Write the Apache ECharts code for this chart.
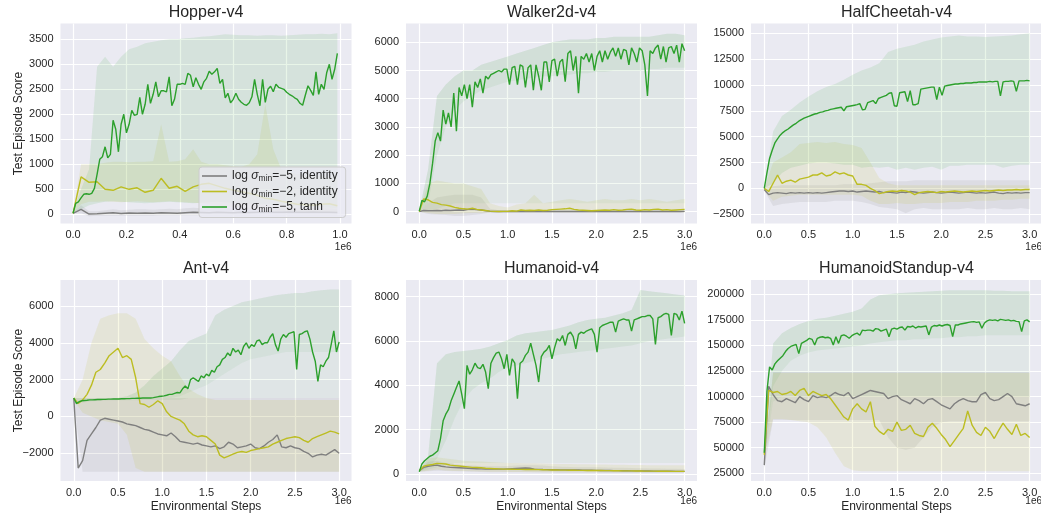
<!DOCTYPE html>
<html>
<head>
<meta charset="utf-8">
<script src="https://cdn.jsdelivr.net/npm/echarts@6/dist/echarts.min.js"></script>
<style>
  html, body { margin: 0; padding: 0; background: #fff; }
  #chart { width: 1041px; height: 514px; }
</style>
</head>
<body>
<div id="chart"></div>
<script>
// x values are environment steps in units of 1e6 (evaluation grid)
function steps(n, dx) {
  const a = []
  for (let i = 0; i < n; i++) a.push(+(i * dx).toFixed(4))
  return a
}
const xHopLine = steps(100, 0.01)
const xHopAux = steps(34, 0.03)
const xLine = steps(101, 0.03)
const xAux = steps(61, 0.05)
const xBand = steps(31, 0.1)

const xTicksHop = [0, 0.2, 0.4, 0.6, 0.8, 1.0]
const xTicks3M = [0, 0.5, 1, 1.5, 2, 2.5, 3]

// ---------------- Hopper ----------------
const hopperYTicks = [0, 500, 1000, 1500, 2000, 2500, 3000, 3500]
const hopperTanh = [
  20, 220, 250, 330, 400, 410, 400, 420, 520, 800,
  1100, 1150, 1350, 1130, 1200, 1880, 1700, 1250, 1800, 2000,
  1630, 1800, 2080, 1980, 2000, 2340, 2000, 2200, 2600, 2220,
  2400, 2650, 2350, 2470, 2470, 2450, 2750, 2170, 2300, 2600,
  2600, 2620, 2600, 2820, 2780, 2550, 2730, 2600, 2500, 2650,
  2720, 2860, 2800, 2850, 2920, 2620, 2700, 2330, 2420, 2230,
  2300, 2420, 2300, 2240, 2200, 2180, 2230, 2350, 2700, 2400,
  2170, 2700, 2240, 2500, 2560, 2450, 2600, 2540, 2520, 2500,
  2440, 2400, 2370, 2330, 2300, 2220, 2180, 2380, 2570, 2480,
  2380, 2850, 2400, 2600, 2500, 2830, 3000, 2700, 2900, 3220]
const hopperId2 = [
  20, 750, 640, 650, 500, 480, 550, 500, 530, 440,
  480, 720, 520, 560, 460, 550, 600, 620, 570, 520,
  480, 450, 420, 380, 320, 300, 260, 230, 200, 190,
  180, 200, 210, 170]
const hopperId5 = [
  20, 100, 5, 10, 20, 30, 15, 25, 20, 25,
  20, 30, 25, 20, 30, 40, 35, 30, 40, 35,
  30, 40, 35, 40, 45, 40, 40, 45, 40, 40,
  45, 40, 40, 35]
const hopperTanhHi = [
  40, 500, 900, 2950, 3150, 2950, 3150, 3300, 3350, 3420,
  3450, 3480, 3500, 3500, 3520, 3530, 3550, 3560, 3580, 3600,
  3590, 3580, 3580, 3570, 3580, 3580, 3570, 3580, 3590, 3600,
  3600, 3610, 3600, 3620]
const hopperTanhLo = [
  0, 100, 180, 220, 250, 260, 250, 240, 230, 220,
  230, 240, 250, 240, 230, 220, 230, 240, 250, 240,
  230, 220, 210, 200, 200, 190, 180, 170, 160, 150,
  150, 140, 130, 120]
const hopperId2Hi = [
  30, 1000, 1000, 1000, 1030, 1050, 1050, 1040, 1050, 1050,
  1060, 1800, 1050, 1060, 1100, 1300, 1050, 1000, 1000, 980,
  960, 950, 1000, 1200, 2200, 1300, 900, 850, 800, 800,
  780, 760, 740, 720]
const hopperId2Lo = [
  10, 200, 250, 250, 260, 250, 240, 250, 260, 250,
  240, 250, 260, 250, 240, 230, 220, 200, 180, 160,
  140, 120, 100, 90, 80, 70, 60, 50, 50, 40,
  40, 40, 30, 30]
const hopperId5Hi = [
  30, 180, 60, 60, 80, 100, 80, 90, 100, 100,
  90, 100, 110, 100, 120, 130, 120, 110, 130, 120,
  110, 130, 120, 130, 140, 130, 120, 130, 140, 130,
  120, 130, 120, 110]
const hopperId5Lo = [
  10, 20, -40, -30, -30, -30, -30, -30, -30, -30,
  -30, -20, -20, -20, -20, -20, -20, -20, -20, -20,
  -20, -20, -20, -20, -20, -20, -20, -20, -20, -20,
  -20, -20, -20, -20]

// ---------------- Walker2d ----------------
const walkerYTicks = [0, 1000, 2000, 3000, 4000, 5000, 6000]
const walkerTanh = [
  20, 400, 350, 550, 1000, 1700, 2500, 2800, 2500, 3600,
  3100, 3500, 3000, 4200, 2850, 4400, 4100, 4500, 4000, 4500,
  3700, 4600, 4400, 4700, 4200, 4800, 4700, 4850, 4900, 4950,
  5000, 4950, 5050, 5050, 4500, 5100, 5150, 4500, 5200, 5150,
  4400, 5100, 5200, 4300, 5200, 4800, 4300, 5300, 5300, 4600,
  5350, 5400, 4800, 5300, 5400, 4600, 5600, 5700, 5000, 5500,
  4200, 5500, 5400, 5600, 5300, 5600, 5000, 5500, 5700, 5300,
  5700, 5400, 5650, 5800, 5500, 5800, 5400, 5750, 5700, 5200,
  5800, 5600, 5300, 5800, 5700, 5200, 4100, 5700, 5600, 5800,
  5900, 5400, 5850, 5300, 5800, 5850, 5600, 5900, 5300, 5950,
  5700]
const walkerId2 = [
  0, 450, 420, 330, 300, 250, 230, 200, 150, 120,
  100, 90, 120, 80, 60, 40, 20, 10, 5, 10,
  10, 30, 20, 60, 40, 50, 40, 60, 40, 50,
  70, 80, 90, 100, 120, 80, 60, 50, 40, 30,
  40, 50, 60, 50, 70, 50, 60, 80, 90, 60,
  50, 70, 60, 80, 90, 60, 70, 50, 60, 70,
  80]
const walkerId5 = [
  0, 40, 30, 30, 40, 30, 50, 40, 50, 60,
  50, 80, 90, 70, 60, 30, 10, 5, 5, 5,
  5, 10, 5, 5, 10, 5, 5, 5, 10, 5,
  5, 5, 10, 5, 5, 5, 10, 5, 5, 5,
  10, 5, 5, 5, 10, 5, 5, 5, 10, 5,
  5, 5, 10, 5, 5, 5, 10, 5, 5, 5,
  10]
const walkerTanhHi = [
  30, 1500, 4100, 4500, 4800, 5000, 5000, 5200, 5300, 5400,
  5500, 5600, 5700, 5800, 5900, 6000, 6050, 6100, 6100, 6100,
  6150, 6150, 6200, 6200, 6200, 6200, 6200, 6250, 6300, 6300,
  6250]
const walkerTanhCore = [
  0, 300, 2000, 3000, 3600, 3900, 4100, 4300, 4400, 4500,
  4600, 4650, 4700, 4750, 4800, 4800, 4850, 4850, 4900, 4900,
  4950, 4950, 5000, 5000, 5000, 5000, 5050, 5050, 5100, 5100,
  5100]
const walkerTanhLo = [
  0, 0, 100, 200, 300, 300, 300, 300, 300, 300,
  300, 300, 300, 300, 300, 300, 300, 300, 300, 300,
  300, 300, 300, 300, 300, 300, 300, 300, 300, 300,
  300]
const walkerId2Hi = [
  0, 1000, 1100, 1050, 1000, 1000, 900, 800, 300, 200,
  150, 250, 300, 600, 300, 350, 400, 450, 400, 350,
  400, 450, 400, 400, 450, 400, 450, 400, 350, 400,
  450]
const walkerId2Lo = [
  0, -50, -80, -80, -80, -60, -50, -40, -30, -30,
  -30, -30, -30, -30, -30, -30, -30, -30, -30, -30,
  -30, -30, -30, -30, -30, -30, -30, -30, -30, -30,
  -30]
const walkerId5Hi = [
  0, 300, 500, 550, 600, 600, 600, 500, 100, 50,
  40, 40, 40, 40, 40, 40, 40, 40, 40, 40,
  40, 40, 40, 40, 40, 40, 40, 40, 40, 40,
  40]
const walkerId5Lo = [
  0, -80, -100, -120, -150, -150, -120, -80, -30, -20,
  -20, -20, -20, -20, -20, -20, -20, -20, -20, -20,
  -20, -20, -20, -20, -20, -20, -20, -20, -20, -20,
  -20]

// ---------------- HalfCheetah ----------------
const cheetahYTicks = [-2500, 0, 2500, 5000, 7500, 10000, 12500, 15000]
const cheetahTanh = [
  0, 1500, 2900, 3700, 4400, 4800, 5150, 5400, 5600, 5750,
  5950, 6150, 6300, 6500, 6650, 6800, 6900, 7000, 7100, 7200,
  7250, 7350, 7400, 7500, 7550, 7650, 7700, 7750, 7800, 7850,
  7500, 7900, 7950, 8000, 8050, 8100, 8200, 7600, 7650, 8300,
  8400, 8500, 8200, 8700, 8800, 8900, 9000, 9200, 9250, 8000,
  7950, 9250, 9300, 9350, 8400, 9450, 8100, 8100, 8200, 9600,
  9650, 9700, 9750, 9800, 9800, 8600, 9800, 9000, 9900, 9950,
  10000, 10050, 10100, 10100, 10150, 10150, 10200, 10200, 10200, 10250,
  10250, 10300, 10300, 10300, 10300, 10350, 10300, 10350, 10350, 8950,
  10300, 10350, 10350, 10400, 10350, 9400, 10400, 10400, 10400, 10450,
  10400]
const cheetahId2 = [
  0, -300, 500, 1300, 500, 700, 800, 600, 900, 1000,
  1100, 1300, 1300, 1500, 1200, 1300, 1600, 1400, 1500, 1300,
  1200, 400, 400, 300, 0, -200, -500, -400, -300, -250,
  -300, -200, -250, -350, -600, -400, -350, -300, -350, -400,
  -300, -350, -300, -250, -300, -350, -300, -250, -300, -250,
  -200, -250, -200, -150, -200, -150, -150, -100, -150, -100,
  -100]
const cheetahId5 = [
  -100, -600, -450, -400, -450, -500, -400, -450, -400, -450,
  -400, -450, -400, -450, -400, -350, -300, -250, -250, -300,
  -250, -350, -300, -250, -300, -350, -300, -400, -350, -400,
  -450, -350, -400, -300, -350, -400, -450, -400, -350, -400,
  -450, -400, -350, -400, -450, -400, -350, -400, -450, -400,
  -450, -400, -350, -450, -500, -400, -450, -400, -450, -400,
  -400]
const cheetahTanhHi = [
  0, 5500, 7000, 7600, 8300, 8900, 9400, 9800, 10100, 10500,
  11000, 11400, 11700, 12100, 13200, 13500, 13700, 13900, 14200, 14400,
  14600, 14700, 14800, 14700, 14700, 14650, 14700, 14750, 14800, 14900,
  15000]
const cheetahTanhLo = [
  0, 500, 1500, 2000, 2200, 2400, 2500, 2500, 2400, 2300,
  2300, 2000, 2100, 2000, 2100, 1800, 2000, 1800, 2000, 2100,
  1800, 2200, 2200, 2300, 2300, 2300, 2300, 2000, 2200, 2300,
  2300]
const cheetahId2Hi = [
  0, 2500, 3000, 3500, 4300, 4400, 4500, 4400, 4500, 4300,
  4200, 3900, 2500, 1000, 500, 300, 300, 300, 300, 300,
  300, 300, 300, 300, 300, 300, 300, 300, 300, 300,
  300]
const cheetahId2Lo = [
  -200, -1200, -800, -700, -600, -600, -600, -600, -600, -600,
  -600, -700, -1200, -1500, -1500, -1400, -1500, -1500, -1400, -1400,
  -1400, -1300, -1300, -1300, -1200, -1200, -1200, -1100, -1100, -1000,
  -1000]
const cheetahId5Hi = [
  0, 200, 300, 300, 300, 300, 300, 300, 300, 400,
  400, 400, 500, 600, 700, 700, 700, 800, 800, 800,
  800, 800, 800, 800, 800, 800, 800, 800, 800, 800,
  800]
const cheetahId5Lo = [
  -200, -1700, -1500, -1400, -1300, -1300, -1300, -1300, -1200, -1200,
  -1200, -1300, -1500, -1800, -1900, -2000, -2400, -2000, -1900, -2000,
  -2000, -2000, -2000, -1900, -2000, -2000, -1900, -2000, -2000, -1900,
  -2000]

// ---------------- Ant ----------------
const antYTicks = [-2000, 0, 2000, 4000, 6000]
const antTanh = [
  1000, 700, 800, 850, 870, 880, 900, 900, 910, 920,
  920, 930, 930, 940, 940, 950, 950, 950, 960, 960,
  970, 970, 980, 980, 990, 990, 1000, 1000, 1000, 1000,
  1020, 1050, 1080, 1100, 1120, 1150, 1200, 1200, 1250, 1300,
  1280, 1500, 1650, 1500, 2000, 2100, 2000, 1900, 2200, 2100,
  2300, 2200, 2500, 2400, 2700, 2800, 3100, 3200, 3450, 3300,
  3700, 3500, 3600, 3350, 3800, 4000, 3700, 3900, 3800, 4100,
  4150, 3900, 4000, 4000, 4300, 4500, 3900, 3550, 4200, 4450,
  4300, 4500, 4550, 4600, 2550, 4450, 4500, 4600, 4650, 4200,
  3500, 3000, 1900, 2800, 2700, 3000, 3200, 3900, 4650, 3500,
  4050]
const antId2 = [
  1000, 700, 900, 1200, 1700, 2400, 2550, 2900, 3300, 3500,
  3700, 3200, 3300, 3100, 2100, 700, 650, 500, 650, 850,
  700, 250, 0, -100, -200, -400, -800, -1000, -1100, -1050,
  -1100, -1300, -1500, -2100, -2250, -2150, -2050, -1950, -1900, -1950,
  -1850, -1800, -1750, -1700, -1650, -1500, -1400, -1300, -1200, -1150,
  -1100, -1150, -1300, -1400, -1200, -1100, -1000, -900, -800, -850,
  -950]
const antId5 = [
  1000, -2800, -2400, -1300, -950, -600, -200, -100, -150, -200,
  -250, -300, -400, -450, -500, -600, -700, -750, -850, -950,
  -1000, -1050, -900, -1100, -1350, -1400, -1450, -1500, -1450, -1550,
  -1600, -1650, -1600, -1750, -1650, -1400, -1500, -1700, -1650, -1600,
  -1500, -1700, -1750, -1600, -1400, -1250, -1000, -1650, -1700, -1600,
  -1700, -1750, -1900, -2000, -2200, -2100, -2050, -2100, -1950, -1800,
  -2000]
const antTanhHi = [
  1000, 1000, 1000, 1000, 1000, 1000, 1100, 1300, 1700, 2200,
  2600, 3000, 3600, 4100, 4300, 4500, 5500, 5800, 6000, 6200,
  6300, 6400, 6500, 6600, 6650, 6700, 6700, 6800, 6850, 6900,
  6900]
const antTanhCore = [
  1000, 1000, 1000, 1000, 1000, 1000, 1000, 1000, 1000, 1000,
  1000, 1000, 1100, 1300, 1500, 1700, 2000, 2300, 2600, 2900,
  3100, 3200, 3300, 3400, 3500, 3500, 3500, 3500, 3500, 3500,
  3500]
const antTanhLo = [
  900, 750, 820, 850, 870, 880, 880, 880, 890, 900,
  900, 900, 900, 1000, 1000, 1000, 1000, 1000, 1000, 1000,
  1000, 1000, 1000, 1000, 1000, 1000, 1000, 1000, 1000, 1000,
  1000]
const antId2Hi = [
  1000, 2000, 4000, 5300, 5500, 5600, 5600, 5300, 4200, 3700,
  3300, 3000, 2200, 1500, 1200, 1000, 900, 900, 900, 900,
  900, 900, 900, 900, 900, 900, 900, 900, 900, 900,
  900]
const antId2Lo = [
  900, 200, 0, -200, -300, -400, -1000, -2800, -3000, -3000,
  -3000, -3000, -3000, -3000, -3000, -3000, -3000, -3000, -3000, -3000,
  -3000, -3000, -3000, -3000, -3000, -3000, -3000, -3000, -3000, -3000,
  -3000]
const antId5Hi = [
  1000, 1000, 1000, 1000, 1000, 1000, 1000, 1000, 1000, 1000,
  1000, 1000, 1000, 1000, 1000, 1000, 1000, 1000, 1000, 1000,
  1000, 1000, 1000, 1000, 1000, 1000, 1000, 1000, 1000, 1000,
  1000]
const antId5Lo = [
  900, -3000, -3000, -3000, -3000, -3000, -3000, -3000, -3000, -3000,
  -3000, -3000, -3000, -3000, -3000, -3000, -3000, -3000, -3000, -3000,
  -3000, -3000, -3000, -3000, -3000, -3000, -3000, -3000, -3000, -3000,
  -3000]

// ---------------- Humanoid ----------------
const humYTicks = [0, 2000, 4000, 6000, 8000]
const humTanh = [
  100, 450, 600, 700, 800, 850, 950, 1050, 1600, 2400,
  2700, 2900, 3300, 3600, 3900, 4200, 3600, 2950, 4900, 4500,
  4700, 5000, 4800, 4750, 4950, 4600, 3850, 5000, 5250, 5450,
  5500, 5200, 4750, 5400, 4450, 5200, 5000, 3400, 5000, 5100,
  5350, 5500, 5900, 5400, 4900, 4150, 5300, 5500, 5600, 5800,
  5200, 5700, 6100, 6000, 6250, 5800, 6300, 6400, 6200, 5650,
  6300, 6400, 6350, 6450, 6500, 6550, 6300, 5500, 6600, 6700,
  6750, 6800, 6850, 6850, 6400, 6900, 6950, 7000, 6950, 6950,
  6450, 6950, 7000, 7050, 7100, 7100, 7150, 7150, 7000, 5850,
  7050, 7100, 7200, 7250, 7200, 6250, 7250, 7200, 6950, 7350,
  6800]
const humId2 = [
  150, 350, 400, 430, 480, 470, 450, 400, 380, 360,
  340, 320, 300, 290, 280, 260, 250, 240, 230, 220,
  220, 215, 210, 210, 205, 200, 200, 195, 190, 185,
  180, 180, 175, 175, 170, 170, 165, 165, 160, 160,
  155, 155, 150, 150, 145, 145, 140, 140, 140, 135,
  135, 130, 130, 130, 125, 125, 125, 120, 120, 120,
  120]
const humId5 = [
  150, 300, 350, 380, 400, 350, 320, 300, 290, 280,
  270, 260, 250, 240, 230, 225, 220, 220, 220, 220,
  230, 240, 250, 260, 270, 260, 220, 210, 200, 195,
  190, 190, 185, 185, 180, 180, 180, 175, 175, 170,
  165, 160, 160, 155, 150, 150, 145, 145, 140, 140,
  140, 135, 135, 130, 130, 130, 125, 125, 120, 120,
  120]
const humTanhHi = [
  100, 800, 5000, 5400, 5500, 5550, 5600, 5650, 5750, 5900,
  6050, 6250, 6350, 6400, 6450, 6500, 6600, 6700, 6850, 6950,
  7000, 7050, 7150, 7250, 7400, 8300, 8250, 8200, 8150, 8100,
  8050]
const humTanhCore = [
  100, 300, 700, 1500, 2500, 3300, 3800, 4100, 4300, 4600,
  4800, 4900, 5000, 5100, 5200, 5300, 5400, 5450, 5500, 5550,
  5600, 5650, 5700, 5750, 5800, 5900, 6000, 6050, 6100, 6150,
  6200]
const humTanhLo = [
  100, 200, 300, 400, 500, 500, 500, 500, 500, 500,
  500, 500, 500, 500, 500, 500, 500, 500, 500, 500,
  500, 500, 500, 500, 500, 500, 500, 500, 500, 500,
  500]
const humId2Hi = [
  150, 700, 750, 700, 650, 600, 580, 560, 540, 520,
  500, 500, 490, 480, 470, 460, 450, 450, 440, 440,
  430, 430, 420, 420, 410, 410, 400, 400, 400, 400,
  400]
const humId2Lo = [
  100, 150, 200, 160, 140, 130, 120, 110, 100, 100,
  90, 90, 90, 80, 80, 80, 80, 80, 80, 80,
  80, 80, 80, 80, 80, 80, 80, 80, 80, 80,
  80]
const humId5Hi = [
  150, 550, 600, 500, 450, 400, 380, 360, 350, 350,
  360, 380, 400, 400, 380, 350, 330, 320, 310, 300,
  300, 290, 280, 280, 270, 260, 250, 250, 240, 240,
  230]
const humId5Lo = [
  100, 120, 150, 140, 120, 110, 100, 90, 80, 80,
  80, 80, 80, 80, 70, 70, 60, 60, 60, 60,
  60, 50, 50, 50, 50, 50, 50, 50, 50, 50,
  50]

// ---------------- HumanoidStandup ----------------
const standYTicks = [25000, 50000, 75000, 100000, 125000, 150000, 175000, 200000]
const standTanh = [
  45000, 105000, 129000, 126000, 132000, 135000, 137500, 140000, 144000, 147000,
  149000, 150000, 151000, 142000, 152000, 153500, 155000, 157000, 156000, 150500,
  157000, 158000, 158500, 157500, 158000, 157000, 150500, 158500, 152000, 159500,
  160300, 159000, 157000, 159500, 161000, 162000, 160000, 165000, 164500, 165000,
  165000, 164000, 166500, 166000, 164000, 165000, 166000, 158600, 166000, 167000,
  166000, 167500, 168000, 165000, 168500, 168000, 169000, 167000, 168500, 168000,
  168500, 169000, 160300, 168000, 169500, 169000, 170000, 169000, 170000, 170500,
  169500, 158600, 170000, 170000, 171000, 171500, 172000, 172500, 173000, 173300,
  172500, 173000, 166800, 172000, 174000, 175000, 174500, 175000, 174000, 175500,
  175000, 174500, 175000, 174000, 174500, 173500, 173300, 163500, 174000, 175000,
  173000]
const standId2 = [
  43000, 106000, 104000, 105000, 102000, 103000, 105000, 101000, 106000, 108000,
  101000, 105000, 103000, 101000, 102000, 98000, 92000, 86000, 80000, 77000,
  88000, 93000, 88000, 85000, 95000, 71000, 66000, 63000, 68000, 66000,
  75000, 67000, 68000, 72000, 64000, 62000, 61000, 70000, 74000, 69000,
  63000, 58000, 51000, 57000, 63000, 69000, 86000, 72000, 65000, 62000,
  70000, 66000, 59000, 67000, 74000, 68000, 63000, 73000, 62000, 64000,
  60000]
const standId5 = [
  33000, 110000, 102000, 96000, 95000, 98000, 96000, 94000, 100000, 97000,
  95000, 101000, 99000, 100000, 99000, 101000, 104000, 102000, 101000, 104000,
  98000, 100000, 102000, 104000, 106000, 105000, 104000, 103000, 98000, 100000,
  101000, 97000, 95000, 93000, 98000, 96000, 93000, 97000, 98000, 95000,
  92000, 90000, 88000, 93000, 96000, 98000, 96000, 95000, 95000, 102000,
  104000, 98000, 96000, 97000, 100000, 103000, 100000, 93000, 92000, 91000,
  93000]
const standTanhHi = [
  50000, 152000, 162000, 167000, 171000, 174000, 176000, 177000, 179000, 181000,
  183000, 186000, 195000, 199000, 200000, 201000, 201500, 202000, 202500, 203000,
  203500, 204000, 204000, 204000, 204000, 204000, 203500, 203500, 203000, 203000,
  203000]
const standTanhCore = [
  40000, 110000, 125000, 135000, 140000, 143000, 145000, 146000, 147000, 148000,
  149000, 150000, 152000, 153000, 154000, 155000, 155000, 156000, 156000, 157000,
  157000, 158000, 158000, 159000, 159000, 160000, 160000, 160000, 160000, 160000,
  160000]
const standTanhLo = [
  40000, 95000, 100000, 100000, 100000, 100000, 100000, 100000, 100000, 100000,
  100000, 100000, 100000, 100000, 100000, 100000, 100000, 100000, 100000, 100000,
  100000, 100000, 100000, 100000, 100000, 100000, 100000, 100000, 100000, 100000,
  100000]
const standId2Hi = [
  45000, 123000, 123000, 123000, 123000, 123000, 123000, 123000, 123000, 123000,
  123000, 123000, 123000, 123000, 123000, 123000, 123000, 123000, 123000, 123000,
  123000, 123000, 123000, 123000, 123000, 123000, 123000, 123000, 123000, 123000,
  123000]
const standId2Lo = [
  40000, 78000, 78000, 77000, 76000, 75000, 70000, 60000, 45000, 32000,
  28000, 27000, 27000, 27000, 27000, 27000, 27000, 27000, 27000, 27000,
  27000, 27000, 27000, 27000, 27000, 27000, 27000, 27000, 27000, 27000,
  27000]
const standId5Hi = [
  35000, 124000, 124000, 124000, 124000, 124000, 124000, 124000, 124000, 124000,
  124000, 124000, 124000, 124000, 124000, 124000, 124000, 124000, 124000, 124000,
  124000, 124000, 124000, 124000, 124000, 124000, 124000, 124000, 124000, 124000,
  124000]
const standId5Lo = [
  30000, 77000, 77000, 77000, 77000, 77000, 77000, 77000, 77000, 77000,
  77000, 77000, 77000, 77000, 60000, 50000, 48000, 50000, 60000, 70000,
  75000, 76000, 76000, 76000, 76000, 76000, 76000, 76000, 76000, 76000,
  76000]

// ---------------- layout / style ----------------
const FONT = '"Liberation Sans", Arial, sans-serif'
const INK = '#262626'
const LINE_COLOR = { k: '#7f7f7f', o: '#bcbd22', g: '#2ca02c' }
const BAND_RGB = { k: '127,127,127', o: '188,189,34', g: '44,160,44' }
const SERIES_NAME = { k: 'id5', o: 'id2', g: 'tanh' }
const LEGEND_TEXT = {
  id5: '{n|log }{i|σ}{s|min}{n|=−5, identity}',
  id2: '{n|log }{i|σ}{s|min}{n|=−2, identity}',
  tanh: '{n|log }{i|σ}{s|min}{n|=−5, tanh}',
}
const W = 291

// band entries: [x, lower, upper, colour key, alpha]
const panels = [
  {
    title: 'Hopper-v4', left: 60.5, top: 23.5, h: 200, x: [-0.047, 1.043], xTicks: xTicksHop,
    y: [-184, 3816], yTicks: hopperYTicks, ylabel: true,
    bands: [[xHopAux, hopperId5Lo, hopperId5Hi, 'k', 0.12], [xHopAux, hopperId2Lo, hopperId2Hi, 'o', 0.12],
      [xHopAux, hopperTanhLo, hopperTanhHi, 'g', 0.11]],
    lines: [[xHopAux, hopperId5, 'k'], [xHopAux, hopperId2, 'o'], [xHopLine, hopperTanh, 'g']],
  },
  {
    title: 'Walker2d-v4', left: 406, top: 23.5, h: 200, x: [-0.15, 3.14], xTicks: xTicks3M,
    y: [-420, 6665], yTicks: walkerYTicks,
    bands: [[xBand, walkerId5Lo, walkerId5Hi, 'k', 0.12], [xBand, walkerId2Lo, walkerId2Hi, 'o', 0.12],
      [xBand, walkerTanhLo, walkerTanhHi, 'g', 0.06], [xBand, walkerTanhCore, walkerTanhHi, 'g', 0.07]],
    lines: [[xAux, walkerId5, 'k'], [xAux, walkerId2, 'o'], [xLine, walkerTanh, 'g']],
  },
  {
    title: 'HalfCheetah-v4', left: 751, top: 23.5, h: 200, x: [-0.15, 3.14], xTicks: xTicks3M,
    y: [-3390, 15950], yTicks: cheetahYTicks,
    bands: [[xBand, cheetahId5Lo, cheetahId5Hi, 'k', 0.12], [xBand, cheetahId2Lo, cheetahId2Hi, 'o', 0.12],
      [xBand, cheetahTanhLo, cheetahTanhHi, 'g', 0.11]],
    lines: [[xAux, cheetahId5, 'k'], [xAux, cheetahId2, 'o'], [xLine, cheetahTanh, 'g']],
  },
  {
    title: 'Ant-v4', left: 60.5, top: 280, h: 201, x: [-0.15, 3.14], xTicks: xTicks3M,
    y: [-3505, 7410], yTicks: antYTicks, ylabel: true, xlabel: true,
    bands: [[xBand, antId5Lo, antId5Hi, 'k', 0.12], [xBand, antId2Lo, antId2Hi, 'o', 0.12],
      [xBand, antTanhLo, antTanhHi, 'g', 0.06], [xBand, antTanhCore, antTanhHi, 'g', 0.06]],
    lines: [[xAux, antId5, 'k'], [xAux, antId2, 'o'], [xLine, antTanh, 'g']],
  },
  {
    title: 'Humanoid-v4', left: 406, top: 280, h: 201, x: [-0.15, 3.14], xTicks: xTicks3M,
    y: [-316, 8753], yTicks: humYTicks, xlabel: true,
    bands: [[xBand, humId5Lo, humId5Hi, 'k', 0.12], [xBand, humId2Lo, humId2Hi, 'o', 0.12],
      [xBand, humTanhLo, humTanhHi, 'g', 0.06], [xBand, humTanhCore, humTanhHi, 'g', 0.07]],
    lines: [[xAux, humId5, 'k'], [xAux, humId2, 'o'], [xLine, humTanh, 'g']],
  },
  {
    title: 'HumanoidStandup-v4', left: 751, top: 280, h: 201, x: [-0.15, 3.14], xTicks: xTicks3M,
    y: [17470, 213980], yTicks: standYTicks, xlabel: true,
    bands: [[xBand, standId5Lo, standId5Hi, 'k', 0.12], [xBand, standId2Lo, standId2Hi, 'o', 0.12],
      [xBand, standTanhLo, standTanhHi, 'g', 0.05], [xBand, standTanhCore, standTanhHi, 'g', 0.07]],
    lines: [[xAux, standId5, 'k'], [xAux, standId2, 'o'], [xLine, standTanh, 'g']],
  },
]

function bandSeries(gi, xs, lo, hi, key, alpha) {
  return {
    type: 'custom',
    xAxisIndex: gi,
    yAxisIndex: gi,
    z: 1,
    silent: true,
    clip: true,
    data: [[xs[0], lo[0]]],
    renderItem: (params, api) => {
      const pts = []
      for (let j = 0; j < xs.length; j++) pts.push(api.coord([xs[j], hi[j]]))
      for (let j = xs.length - 1; j >= 0; j--) pts.push(api.coord([xs[j], lo[j]]))
      return {
        type: 'polygon',
        shape: { points: pts },
        style: { fill: 'rgba(' + BAND_RGB[key] + ',' + alpha + ')' },
      }
    },
  }
}

function lineSeries(gi, xs, ys, key) {
  return {
    type: 'line',
    name: SERIES_NAME[key],
    xAxisIndex: gi,
    yAxisIndex: gi,
    z: 2,
    data: xs.map((x, j) => [x, ys[j]]),
    showSymbol: false,
    symbol: 'none',
    color: LINE_COLOR[key],
    lineStyle: { width: 1.4, color: LINE_COLOR[key] },
    emphasis: { disabled: true },
    silent: true,
  }
}

const tickLabel = (fmt) => ({
  color: INK,
  fontSize: 11,
  fontFamily: FONT,
  formatter: fmt,
})

const grid = []
const xAxis = []
const yAxis = []
const series = []
const graphic = []

panels.forEach((p, i) => {
  grid.push({
    left: p.left, top: p.top, width: W, height: p.h,
    show: true, backgroundColor: '#eaeaf2', borderWidth: 0,
    containLabel: false, outerBoundsMode: 'none',
  })
  xAxis.push({
    type: 'value', gridIndex: i, min: p.x[0], max: p.x[1],
    axisLine: { show: false },
    axisTick: { show: false, customValues: p.xTicks },
    axisLabel: Object.assign(tickLabel((v) => v.toFixed(1)), { customValues: p.xTicks, margin: 6 }),
    splitLine: { show: true, lineStyle: { color: '#ffffff', width: 1.2 } },
  })
  yAxis.push({
    type: 'value', gridIndex: i, min: p.y[0], max: p.y[1],
    axisLine: { show: false },
    axisTick: { show: false, customValues: p.yTicks },
    axisLabel: Object.assign(tickLabel((v) => String(v).replace('-', '\u2212')), { customValues: p.yTicks, margin: 7 }),
    splitLine: { show: true, lineStyle: { color: '#ffffff', width: 1.2 } },
  })
  p.bands.forEach((b) => series.push(bandSeries(i, b[0], b[1], b[2], b[3], b[4])))
  p.lines.forEach((l) => series.push(lineSeries(i, l[0], l[1], l[2])))

  const cx = p.left + W / 2
  const bottom = p.top + p.h
  graphic.push({
    type: 'text', x: cx, y: p.top - 11,
    style: { text: p.title, fill: INK, font: '16px ' + FONT, align: 'center', verticalAlign: 'middle' },
  })
  graphic.push({
    type: 'text', x: p.left + W, y: bottom + (i < 3 ? 24 : 20),
    style: { text: '1e6', fill: INK, font: '10px ' + FONT, align: 'right', verticalAlign: 'middle' },
  })
  if (p.ylabel) {
    graphic.push({
      type: 'text', x: 19, y: p.top + p.h / 2, rotation: Math.PI / 2,
      style: { text: 'Test Episode Score', fill: INK, font: '12px ' + FONT, align: 'center', verticalAlign: 'middle' },
    })
  }
  if (p.xlabel) {
    graphic.push({
      type: 'text', x: cx, y: bottom + 26,
      style: { text: 'Environmental Steps', fill: INK, font: '12px ' + FONT, align: 'center', verticalAlign: 'middle' },
    })
  }
})

const chart = echarts.init(document.getElementById('chart'), null, { renderer: 'canvas' })
chart.setOption({
  animation: false,
  backgroundColor: '#ffffff',
  grid,
  xAxis,
  yAxis,
  series,
  graphic,
  legend: {
    data: ['id5', 'id2', 'tanh'],
    orient: 'vertical',
    left: 199,
    top: 167,
    icon: 'rect',
    itemWidth: 25,
    itemHeight: 1.6,
    itemGap: 2,
    padding: [3, 8, 3, 3],
    backgroundColor: 'rgba(234,234,242,0.8)',
    borderColor: '#cccccc',
    borderWidth: 1,
    borderRadius: 3,
    selectedMode: false,
    formatter: (name) => LEGEND_TEXT[name],
    textStyle: {
      color: INK,
      fontSize: 12,
      fontFamily: FONT,
      rich: {
        n: { color: INK, fontSize: 12, fontFamily: FONT, lineHeight: 14 },
        i: { color: INK, fontSize: 12, fontFamily: FONT, fontStyle: 'italic', lineHeight: 14 },
        s: { color: INK, fontSize: 8.5, fontFamily: FONT, padding: [6, 0, 0, 0] },
      },
    },
  },
})
</script>
</body>
</html>
